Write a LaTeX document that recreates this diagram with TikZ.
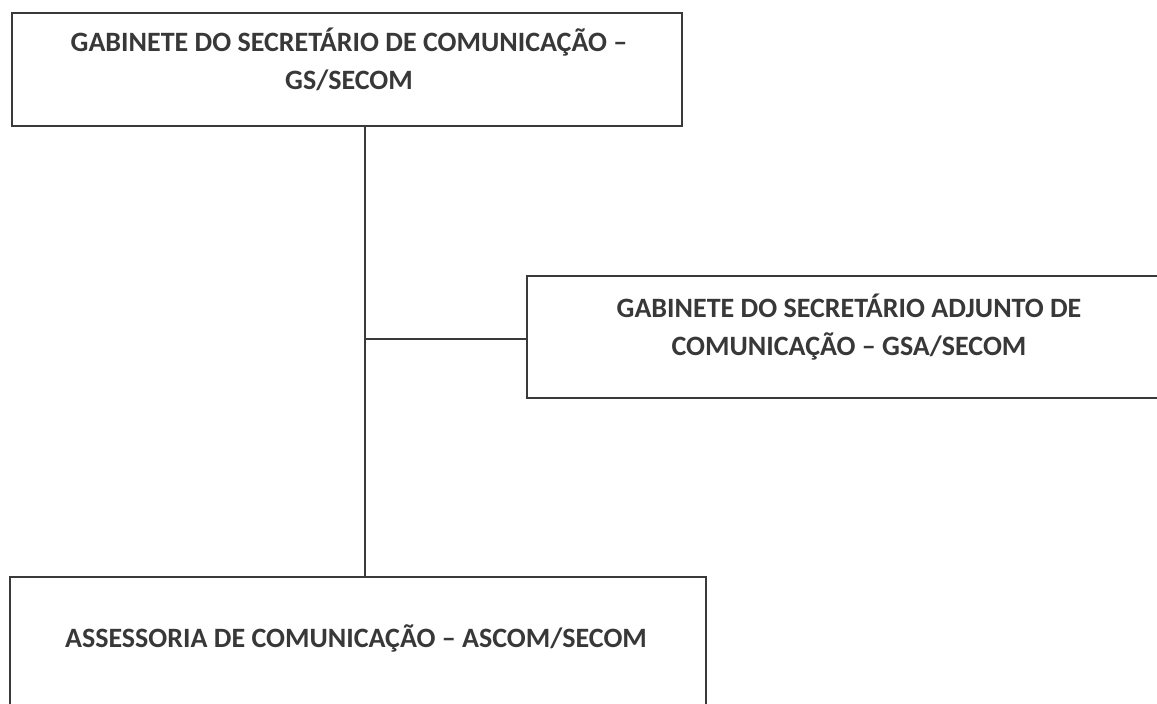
\documentclass[tikz,border=0pt]{standalone}
\usepackage{fontspec}
\setmainfont{Carlito}
\definecolor{boxcol}{HTML}{3A3A3A}
\definecolor{txtcol}{HTML}{383838}
\begin{document}
\begin{tikzpicture}[x=1pt,y=-1pt,
  box/.style={draw=boxcol, line width=2pt, inner sep=0pt},
  lbl/.style={font=\fontsize{28}{38}\selectfont\bfseries, text=txtcol, align=center, inner sep=0pt},
  conn/.style={draw=boxcol, line width=1.3pt}]
\useasboundingbox (0,0) rectangle (1157,704);
\fill[white] (0,0) rectangle (1157,704);
% boxes
\node[box, minimum width=670pt, minimum height=113pt] (gs) at (347,69.5) {};
\node[box, minimum width=644pt, minimum height=122pt] (gsa) at (849,337) {};
\node[box, minimum width=696pt, minimum height=150pt] (asc) at (358,652) {};
% labels
\node[lbl] (t1) at (349,59) {GABINETE DO SECRETÁRIO DE COMUNICAÇÃO –\\GS/SECOM};
\node[lbl] (t2) at (849,327) {GABINETE DO SECRETÁRIO ADJUNTO DE\\COMUNICAÇÃO – GSA/SECOM};
\node[lbl] (t3) at (356,638) {ASSESSORIA DE COMUNICAÇÃO – ASCOM/SECOM};
% connectors
\coordinate (j) at (365,339);
\draw[conn] (gs.south -| j) -- (asc.north -| j);
\draw[conn] (j) -- (gsa.west |- j);
\end{tikzpicture}
\end{document}
